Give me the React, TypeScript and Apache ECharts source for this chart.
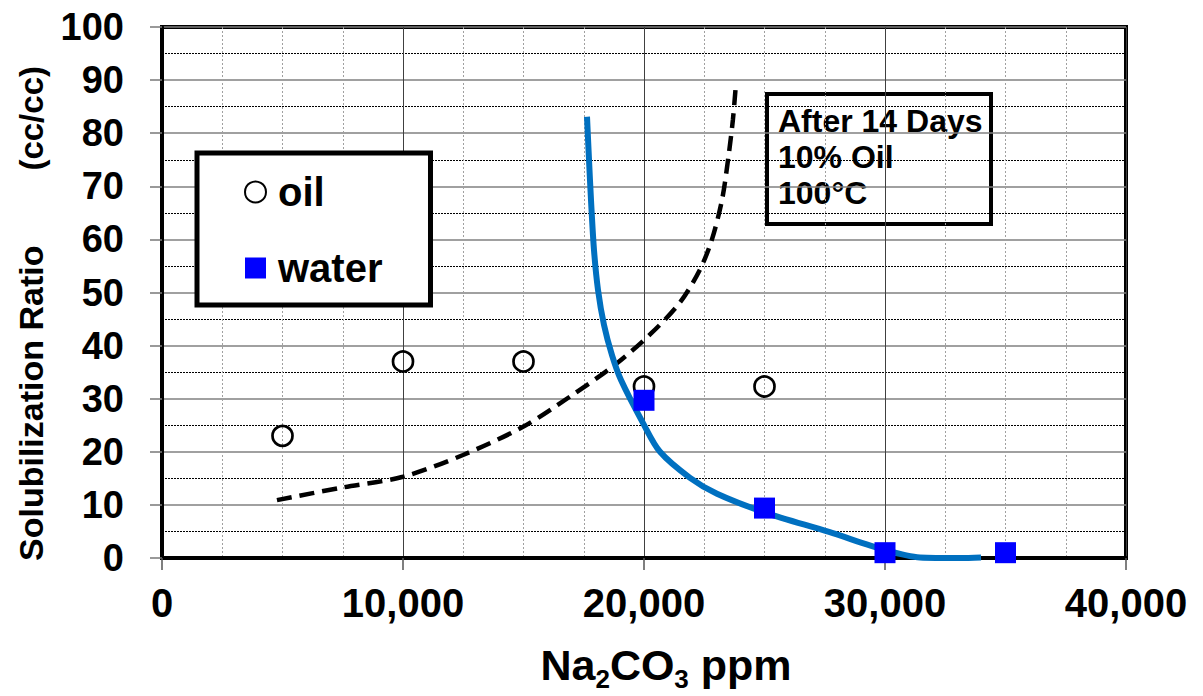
import React, { useEffect, useRef } from "react";
import * as echarts from "echarts";

// Measured solubilization ratios (cc/cc) against Na2CO3 concentration (ppm)
const oilConc = [5000, 10000, 15000, 20000, 25000];
const oilRatio = [23, 37, 37, 32.3, 32.3];
const waterConc = [20000, 25000, 30000, 35000];
const waterRatio = [29.7, 9.4, 1, 1];

// Hand-drawn trend curves through the measurements
const oilTrendConc = [4770, 7390, 10000, 12490, 14980, 16930, 18800, 20250, 21490, 22320, 22820, 23240, 23490, 23690, 23820];
const oilTrendRatio = [10.9, 13.2, 15.3, 19.4, 24.7, 30.4, 36.4, 42.1, 48.1, 54.3, 60.0, 67.5, 75.1, 82.6, 89.6];
const waterTrendConc = [17635, 17718, 17801, 17925, 18091, 18340, 18672, 19046, 19960, 20664, 21909, 23029, 25062, 27677, 30000, 31452, 33112, 33984];
const waterTrendRatio = [83.1, 75.0, 67.4, 58.0, 50.5, 43.9, 38.2, 33.5, 25.4, 20.0, 15.1, 12.1, 8.5, 4.9, 1.5, 0.1, 0, 0.1];

const seriesNames = ["oil", "water"];
const noteLines = ["After 14 Days", "10% Oil", "100°C"];

const FONT = '"Liberation Sans", Arial, sans-serif';

const zip = (xs: number[], ys: number[]) => xs.map((x, i) => [x, ys[i]]);

export default function App() {
  const ref = useRef<HTMLDivElement>(null);

  useEffect(() => {
    if (!ref.current) return;
    const chart = echarts.init(ref.current, undefined, { renderer: "svg" });
    chart.setOption({
      animation: false,
      backgroundColor: "#fff",
      textStyle: { fontFamily: FONT },
      grid: {
        left: 162,
        right: 77,
        top: 27,
        bottom: 138,
        containLabel: false,
        outerBoundsMode: "none",
        show: true,
        borderColor: "#000",
        borderWidth: 4,
        backgroundColor: "transparent",
      },
      xAxis: {
        type: "value",
        min: 0,
        max: 40000,
        interval: 10000,
        name: "{a|Na}{s|2}{a|CO}{s|3}{a| ppm}",
        nameLocation: "middle",
        nameGap: 77,
        nameTextStyle: {
          padding: [0, 0, 0, 44],
          rich: {
            a: { fontSize: 43, fontWeight: "bold", fontFamily: FONT, color: "#000", lineHeight: 60 },
            s: { fontSize: 26, fontWeight: "bold", fontFamily: FONT, color: "#000", padding: [27, 0, 0, 0] },
          },
        },
        axisLine: { show: true, lineStyle: { color: "#000", width: 4 } },
        axisTick: { show: true, length: 12, lineStyle: { color: "#555", width: 1.5 } },
        axisLabel: {
          margin: 25,
          fontSize: 40,
          fontWeight: "bold",
          fontFamily: FONT,
          color: "#000",
          formatter: (v: number) => v.toLocaleString("en-US"),
        },
        splitLine: { show: true, lineStyle: { color: "#404040", width: 1 } },
        minorTick: { show: false, splitNumber: 4 },
        minorSplitLine: { show: true, lineStyle: { color: "#a0a0a0", width: 1, type: [2, 2] } },
      },
      yAxis: {
        type: "value",
        min: 0,
        max: 100,
        interval: 10,
        name: "{a|Solubilization Ratio}{b|(cc/cc)}",
        nameLocation: "middle",
        nameGap: 114,
        nameRotate: 90,
        nameTextStyle: {
          padding: [0, 42, 0, 0],
          rich: {
            a: { fontSize: 34, fontWeight: "bold", fontFamily: FONT, color: "#000" },
            b: { fontSize: 33, fontWeight: "bold", fontFamily: FONT, color: "#000", padding: [0, 0, 0, 75] },
          },
        },
        axisLine: { show: true, lineStyle: { color: "#000", width: 4 } },
        axisTick: { show: true, length: 12, lineStyle: { color: "#777", width: 1.5 } },
        axisLabel: {
          margin: 38,
          fontSize: 38,
          fontWeight: "bold",
          fontFamily: FONT,
          color: "#000",
        },
        splitLine: { show: true, lineStyle: { color: "#808080", width: 1.5 } },
        minorTick: { show: false, splitNumber: 2 },
        minorSplitLine: { show: true, lineStyle: { color: "#000", width: 1, type: [2, 1] } },
      },
      legend: {
        data: seriesNames,
        orient: "vertical",
        left: 197,
        top: 153,
        padding: [19, 48, 17, 47],
        itemGap: 36,
        itemWidth: 21,
        itemHeight: 21,
        backgroundColor: "#fff",
        borderColor: "#000",
        borderWidth: 5,
        textStyle: { fontSize: 40, fontWeight: "bold", fontFamily: FONT, color: "#000", padding: [0, 0, 0, 7] },
      },
      graphic: [
        {
          type: "group",
          z: 100,
          children: [
            {
              type: "rect",
              shape: { x: 767, y: 94, width: 224, height: 130 },
              style: { fill: "#fff", stroke: "#000", lineWidth: 4 },
            },
            {
              type: "text",
              x: 778,
              y: 103,
              style: {
                text: noteLines.join("\n"),
                font: `bold 32px ${FONT}`,
                lineHeight: 36,
                fill: "#000",
              },
            },
          ],
        },
      ],
      series: [
        {
          type: "line",
          data: zip(oilTrendConc, oilTrendRatio),
          symbol: "none",
          smooth: 0.3,
          lineStyle: { color: "#000", width: 4.5, type: [15, 8] },
          z: 2,
          silent: true,
        },
        {
          type: "line",
          data: zip(waterTrendConc, waterTrendRatio),
          symbol: "none",
          smooth: 0.3,
          lineStyle: { color: "#0070C0", width: 6 },
          z: 2,
          silent: true,
        },
        {
          name: seriesNames[0],
          type: "scatter",
          data: zip(oilConc, oilRatio),
          symbol: "circle",
          symbolSize: 20,
          itemStyle: { color: "rgba(255,255,255,0)", borderColor: "#000", borderWidth: 2.7, opacity: 1 },
          z: 3,
        },
        {
          name: seriesNames[1],
          type: "scatter",
          data: zip(waterConc, waterRatio),
          symbol: "rect",
          symbolSize: 21,
          itemStyle: { color: "#0000FF", opacity: 1 },
          z: 3,
        },
      ],
    });
    return () => chart.dispose();
  }, []);

  return (
    <div
      ref={ref}
      style={{ position: "fixed", left: 0, top: 0, width: 1203, height: 696, background: "#fff" }}
    />
  );
}
